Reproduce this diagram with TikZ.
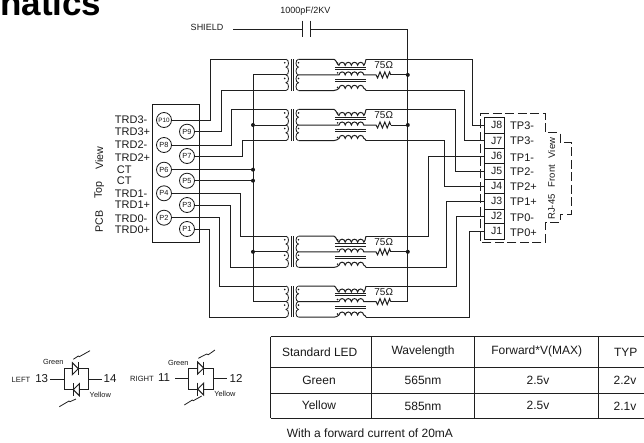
\documentclass[tikz,border=0pt]{standalone}
\usepackage{fontspec}
\setmainfont{Liberation Sans}
\usetikzlibrary{calc}
\newcommand\fsz[1]{\fontsize{#1}{#1}\selectfont}
\tikzset{
  wire/.style={line width=1pt,draw=black!88},
  thinw/.style={line width=.8pt,draw=black!88},
  lbl/.style={inner sep=0pt,text=black!90},
  lblw/.style={lbl,anchor=west,font=\fsz{11}},
  pin/.style={circle,draw=black!90,line width=.8pt,minimum size=15pt,inner sep=0pt,font=\fsz{7.4},text=black!90},
  jack/.style={rectangle,draw=black!90,line width=1pt,minimum width=19.7pt,inner sep=0pt,font=\fsz{10.5},text=black!90},
  dotmark/.style={circle,fill=black!90,inner sep=0pt,minimum size=4pt},
  tiny/.style={circle,fill=black!90,inner sep=0pt,minimum size=1.8pt},
  tcell/.style={lbl,font=\fsz{12}},
}
\newcommand\hmp{.. controls +(.6,-4) and +(-.6,-4) .. ++(6.2,0)}
\newcommand\xfmr[2]{%
  \coordinate (#1lt) at (286,#2);
  \coordinate (#1lm) at (286,#2+15.6);
  \coordinate (#1lb) at (286,#2+31.2);
  \coordinate (#1rt) at (366,#2);
  \coordinate (#1rb) at (366,#2+31.2);
  \coordinate (#1res) at (390.7,#2+15.6);
  % primary coil
  \draw[thinw] (#1lt) .. controls +(3.3,0) and +(3.3,0) .. ++(0,7.8) .. controls +(3.3,0) and +(3.3,0) .. ++(0,7.8)
     .. controls +(3.3,0) and +(3.3,0) .. ++(0,7.8) .. controls +(3.3,0) and +(3.3,0) .. ++(0,7.8);
  \draw[thinw] (291,#2) -- (291,#2+31.2) (293.4,#2) -- (293.4,#2+31.2);
  % secondary coil
  \draw[thinw] (298.5,#2) .. controls +(-3.3,0) and +(-3.3,0) .. ++(0,7.8) .. controls +(-3.3,0) and +(-3.3,0) .. ++(0,7.8)
     .. controls +(-3.3,0) and +(-3.3,0) .. ++(0,7.8) .. controls +(-3.3,0) and +(-3.3,0) .. ++(0,7.8);
  \node[tiny] at (284.7,#2+3.5) {};
  \node[tiny] at (284.7,#2+19.1) {};
  \node[tiny] at (298.5,#2+3.5) {};
  \node[tiny] at (298.5,#2+19.1) {};
  % wires to the choke
  \draw[wire] (298.5,#2) -- (334,#2) .. controls +(2,0) and +(-1,1) .. (339,#2+6) \hmp \hmp \hmp \hmp .. controls +(.5,0) and +(0,2) .. (#1rt);
  \draw[wire] (298.5,#2+31.2) -- (334,#2+31.2) .. controls +(2,0) and +(-1,1) .. (339,#2+29) \hmp \hmp \hmp \hmp .. controls +(.5,0) and +(0,-1) .. (#1rb);
  \draw[wire] (298.5,#2+15.6) -- (339,#2+15.6) \hmp \hmp \hmp \hmp -- (376,#2+15.6)
     -- ++(1.6,3) -- ++(2.4,-6) -- ++(2.4,6) -- ++(2.4,-6) -- ++(2.4,6) -- ++(2.4,-6) -- ++(1.1,3);
  \draw[thinw] (335,#2+7.6) -- (366,#2+7.6) (335,#2+9.7) -- (366,#2+9.7) (335,#2+20.3) -- (366,#2+20.3) (335,#2+22.4) -- (366,#2+22.4);
  \node[tiny] at (337.6,#2+3.8) {};
  \node[tiny] at (337.6,#2+13.5) {};
  \node[tiny] at (337.6,#2+28) {};
  \node[lbl,font=\fsz{10}] at (383.7,#2+6) {75Ω};
}
% LED pair: #1 box left, #2 box top, #3 top-diode base x, #4 bottom-diode tip x
\newcommand\ledbox[4]{%
  \draw[wire] (#1,#2) rectangle (#1+24.3,#2+21);
  \draw[wire,fill=white] (#3,#2-6) -- (#3,#2+6) -- (#3+6,#2) -- cycle;
  \draw[wire] (#3+6,#2-6.5) -- (#3+6,#2+6.5);
  \draw[wire,fill=white] (#4+6,#2+15) -- (#4+6,#2+27) -- (#4,#2+21) -- cycle;
  \draw[wire] (#4,#2+14.5) -- (#4,#2+27.5);
}
\begin{document}
\begin{tikzpicture}[x=1pt,y=-1pt]
\useasboundingbox (0,0) rectangle (644,442);
\node[inner sep=0pt,anchor=base west,font=\bfseries\fsz{35},text=black] (title) at (0,15) {natics};

% shield and capacitor
\node[lbl,font=\fsz{9}] (shield) at (207,27) {SHIELD};
\node[lbl,font=\fsz{9}] (capv) at (305.3,10.7) {1000pF/2KV};
\coordinate (shs) at (233,29);
\coordinate (capa) at (302,29);
\coordinate (capb) at (310,29);
\coordinate (railR) at (407.8,29);
\coordinate (railL) at (253,0);
\draw[wire] (shs) -- (capa) (capa |- 0,20.7) -- (capa |- 0,37.3);
\draw[wire] (capb |- 0,20.7) -- (capb |- 0,37.3) (capb) -- (railR);

% transformers
\xfmr{A}{59.3}
\xfmr{B}{109.4}
\xfmr{C}{236.2}
\xfmr{D}{286}

% PCB connector
\node[rectangle,draw=black!90,line width=1pt,minimum width=47pt,minimum height=137.7pt,inner sep=0pt] (pcb) at (176.2,173.2) {};
\node[pin,font=\fsz{6.3}] (P10) at (164,120) {P10};
\foreach \n/\x/\y in {P9/187/131.7,P8/164/145,P7/187/156,P6/164/169.7,P5/187/180.7,P4/164/193.3,P3/187/205,P2/164/217.7,P1/187/229}
  \node[pin] (\n) at (\x,\y) {\n};

% RJ-45 cells
\foreach \n/\y/\h in {J8/125.35/15.3,J7/140.65/15.3,J6/156/15.4,J5/171.35/15.3,J4/186.35/14.7,J3/201.35/15.3,J2/216.15/14.3,J1/231.15/15.7}
  \node[jack,minimum height=\h pt] (\n) at (494.2,\y) {\hspace*{5pt}\n};

% rails
\draw[wire] (Alm) -| (railL |- Dlm) -- (Dlm);
\draw[wire] (railR) -- (railR |- Dres) -- (Dres);
\node[dotmark] (dl1) at (railL |- Blm) {};
\node[dotmark] (dl2) at (railL |- P6) {};
\node[dotmark] (dl3) at (railL |- P5) {};
\node[dotmark] (dl4) at (railL |- Clm) {};
\node[dotmark] (dr1) at (railR |- Ares) {};
\node[dotmark] (dr2) at (railR |- Bres) {};
\node[dotmark] (dr3) at (railR |- Cres) {};
\draw[wire] (dl1) -- (Blm) (dl4) -- (Clm);
\draw[wire] (P6.east) -- (dl2);
\draw[wire] (P5.east) -- (dl3);
\draw[wire] (Ares) -- (dr1);
\draw[wire] (Bres) -- (dr2);
\draw[wire] (Cres) -- (dr3);

% left routing
\coordinate (x10) at (210.7,0); \coordinate (x9) at (221,0);
\coordinate (x8) at (231,0);    \coordinate (x7) at (242,0);
\coordinate (x4) at (240.3,0);  \coordinate (x3) at (230,0);
\coordinate (x2) at (219.7,0);  \coordinate (x1) at (209,0);
\draw[wire] (P10.east) -| (x10 |- Alt) -- (Alt);
\draw[wire] (P9.east) -| (x9 |- Alb) -- (Alb);
\draw[wire] (P8.east) -| (x8 |- Blt) -- (Blt);
\draw[wire] (P7.east) -| (x7 |- Blb) -- (Blb);
\draw[wire] (P4.east) -| (x4 |- Clt) -- (Clt);
\draw[wire] (P3.east) -| (x3 |- Clb) -- (Clb);
\draw[wire] (P2.east) -| (x2 |- Dlt) -- (Dlt);
\draw[wire] (P1.east) -| (x1 |- Dlb) -- (Dlb);

% right routing
\coordinate (r8) at (472.7,0); \coordinate (r7) at (464.3,0);
\coordinate (r5) at (455,0);   \coordinate (r4) at (444.5,0);
\coordinate (r6) at (428,0);   \coordinate (r3) at (446,0);
\coordinate (r2) at (456.8,0); \coordinate (r1) at (469,0);
\draw[wire] (Art) -| (r8 |- J8.west) -- (J8.west);
\draw[wire] (Arb) -| (r7 |- J7.west) -- (J7.west);
\draw[wire] (Brt) -| (r5 |- J5.west) -- (J5.west);
\draw[wire] (Brb) -| (r4 |- J4.west) -- (J4.west);
\draw[wire] (Crt) -| (r6 |- J6.west) -- (J6.west);
\draw[wire] (Crb) -| (r3 |- J3.west) -- (J3.west);
\draw[wire] (Drt) -| (r2 |- J2.west) -- (J2.west);
\draw[wire] (Drb) -| (r1 |- J1.west) -- (J1.west);

% dashed housing
\draw[wire,dash pattern=on 9pt off 3.5pt] (480.3,113.3) -- (545.3,113.3) -- (545.3,132.7) -- (560,132.7) -- (560,142.3) -- (571.3,142.3) -- (571.3,214) -- (560,214) -- (560,222.7) -- (545.3,222.7) -- (545.3,242.3) -- (480.3,242.3) -- cycle;

% jack labels
\foreach \n/\t/\y in {a/TP3-/125.7,b/TP3-/141,c/TP1-/158,d/TP2-/171.7,e/TP2+/187,f/TP1+/202,g/TP0-/218,h/TP0+/233}
  \node[lblw] (tp\n) at (510,\y) {\t};
\node[lbl,font=\fsz{9.5},rotate=90] (rj) at (551.7,207) {RJ-45};
\node[lbl,font=\fsz{9.5},rotate=90] (fr) at (551.7,176) {Front};
\node[lbl,font=\fsz{9.5},rotate=90] (vw) at (551.7,148) {View};

% PCB labels
\foreach \n/\t/\x/\y in {a/TRD3-/114.7/120,b/TRD3+/114.7/132,c/TRD2-/114.7/144.3,d/TRD2+/114.7/157.3,e/CT/116.7/169.3,f/CT/116.7/181,g/TRD1-/114.7/194,h/TRD1+/114.7/204.3,i/TRD0-/114.7/218.3,j/TRD0+/114.7/229.3}
  \node[lblw] (trd\n) at (\x,\y) {\t};
\node[lbl,font=\fsz{10.7},rotate=90] (pcbl) at (99.3,221.7) {PCB};
\node[lbl,font=\fsz{10.7},rotate=90] (topl) at (99.3,190) {Top};
\node[lbl,font=\fsz{10.7},rotate=90] (viewl) at (99.3,158) {View};

% LEFT LED
\ledbox{64}{368.7}{72.3}{73.3}
\coordinate (l13) at (50,379); \coordinate (l13b) at (64,379);
\coordinate (l14) at (102.3,379); \coordinate (l14b) at (88.3,379);
\draw[wire] (l13) -- (l13b) (l14b) -- (l14);
\draw[thinw] (73.3,359.3) -- (78.3,356) -- (79.3,356.7) -- (90,350.7);
\draw[thinw] (76,399) -- (70,401.7) -- (69,401) -- (59.3,406.7);
\node[lbl,font=\fsz{7.6}] (leftl) at (21,380) {LEFT};
\node[lbl,font=\fsz{11.5}] (n13) at (41.7,379) {13};
\node[lbl,font=\fsz{11.5}] (n14) at (110,378.5) {14};
\node[lbl,font=\fsz{7.4}] (gl) at (53.3,361.7) {Green};
\node[lbl,font=\fsz{7.4}] (yl) at (100.3,395) {Yellow};

% RIGHT LED
\ledbox{188.7}{368}{197.7}{197.7}
\coordinate (l11) at (175,378.3); \coordinate (l11b) at (188.7,378.3);
\coordinate (l12) at (226.7,378.3); \coordinate (l12b) at (213,378.3);
\draw[wire] (l11) -- (l11b) (l12b) -- (l12);
\draw[thinw] (198.3,358.3) -- (206.7,354) -- (208.3,354.7) -- (215,350);
\draw[thinw] (201.7,396) -- (193.3,400.7) -- (192.3,400) -- (184.3,405);
\node[lbl,font=\fsz{7.6}] (rightl) at (142,378.5) {RIGHT};
\node[lbl,font=\fsz{11.5}] (n11) at (164,378) {11};
\node[lbl,font=\fsz{11.5}] (n12) at (236,378) {12};
\node[lbl,font=\fsz{7.4}] (gr) at (178.3,363) {Green};
\node[lbl,font=\fsz{7.4}] (yr) at (225,393.7) {Yellow};

% table
\draw[wire] (270.7,336.7) -- (644,336.7) (270.7,367.3) -- (644,367.3) (270.7,393.3) -- (644,393.3) (270.7,418.3) -- (644,418.3);
\draw[wire] (270.7,336.7) -- (270.7,418.3) (371.7,336.7) -- (371.7,418.3) (474.3,336.7) -- (474.3,418.3) (598.7,336.7) -- (598.7,418.3);
\node[tcell] (t11) at (319.7,352) {Standard LED};
\node[tcell] (t12) at (423,351) {Wavelength};
\node[tcell] (t13) at (536.7,351) {Forward*V(MAX)};
\node[tcell] (t14) at (625.7,352) {TYP};
\node[tcell] (t21) at (319,380) {Green};
\node[tcell] (t22) at (423,380) {565nm};
\node[tcell] (t23) at (538,380) {2.5v};
\node[tcell] (t24) at (625,380) {2.2v};
\node[tcell] (t31) at (319,405) {Yellow};
\node[tcell] (t32) at (423,406) {585nm};
\node[tcell] (t33) at (538,405) {2.5v};
\node[tcell] (t34) at (625,406) {2.1v};
\node[tcell,anchor=west] (note) at (286.7,433) {With a forward current of 20mA};
\end{tikzpicture}
\end{document}
